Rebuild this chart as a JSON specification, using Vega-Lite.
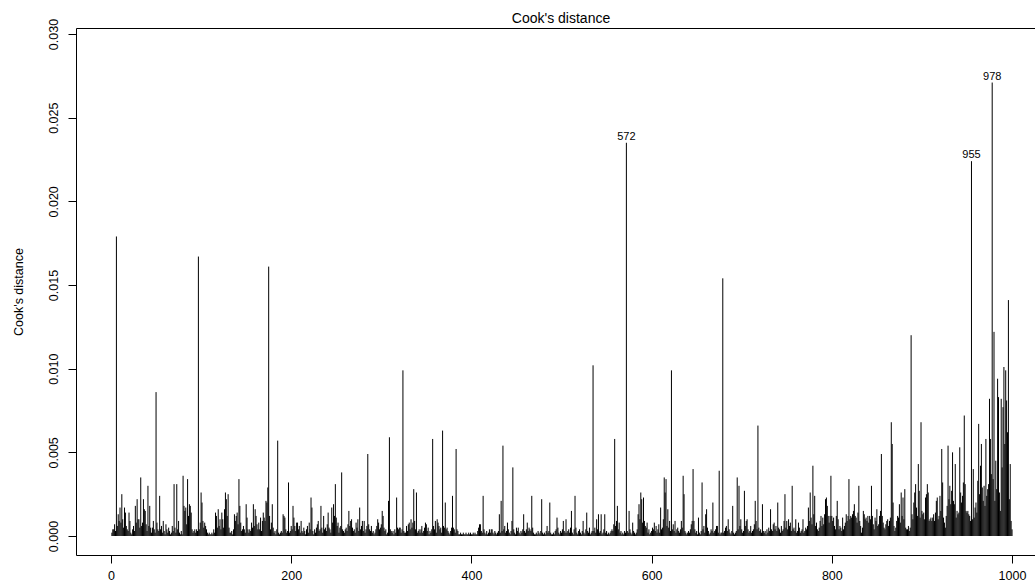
{
"$schema":"https://vega.github.io/schema/vega-lite/v6.json",
"autosize":{"type":"none"},
"padding":{"left":76,"top":28,"right":0,"bottom":30},
"width":959,"height":527,
"background":"white",
"title":{"text":"Cook's distance","fontSize":14,"font":"Liberation Sans","fontWeight":"normal","color":"black","offset":4,"dy":12,"dx":5.5},
"data":{"values":[
{"i":1,"d":0.0002},{"i":2,"d":0.0004},{"i":3,"d":0.0004},{"i":4,"d":0.0007},{"i":5,"d":0.0003},{"i":6,"d":0.0179},{"i":7,"d":0.0006},{"i":8,"d":0.0013},{"i":9,"d":0.0009},{"i":10,"d":0.0017},
{"i":11,"d":0.0008},{"i":12,"d":0.0025},{"i":13,"d":0.001},{"i":14,"d":0.0005},{"i":15,"d":0.0017},{"i":16,"d":0.0014},{"i":17,"d":0.0006},{"i":18,"d":0.0004},{"i":19,"d":0.0003},{"i":20,"d":0.0014},
{"i":21,"d":0.0009},{"i":22,"d":0.0002},{"i":23,"d":0.0001},{"i":24,"d":0.0004},{"i":25,"d":0.0006},{"i":26,"d":0.0003},{"i":27,"d":0.0018},{"i":28,"d":0.0008},{"i":29,"d":0.0022},{"i":30,"d":0.001},
{"i":31,"d":0.001},{"i":32,"d":0.0005},{"i":33,"d":0.0035},{"i":34,"d":0.0006},{"i":35,"d":0.0008},{"i":36,"d":0.0022},{"i":37,"d":0.0016},{"i":38,"d":0.0015},{"i":39,"d":0.0007},{"i":40,"d":0.0003},
{"i":41,"d":0.003},{"i":42,"d":0.0006},{"i":43,"d":0.0018},{"i":44,"d":0.0005},{"i":45,"d":0.0002},{"i":46,"d":0.0005},{"i":47,"d":0.0009},{"i":48,"d":0.0004},{"i":49,"d":0.0002},{"i":50,"d":0.0086},
{"i":51,"d":0.0008},{"i":52,"d":0.0004},{"i":53,"d":0.0003},{"i":54,"d":0.0024},{"i":55,"d":0.0004},{"i":56,"d":0.0006},{"i":57,"d":0.0002},{"i":58,"d":0.0009},{"i":59,"d":0.0003},{"i":60,"d":0.0001},
{"i":61,"d":0.0007},{"i":62,"d":0.0004},{"i":63,"d":0.0002},{"i":64,"d":0.0005},{"i":65,"d":0.0003},{"i":66,"d":0.0001},{"i":67,"d":0.0002},{"i":68,"d":0.0006},{"i":69,"d":0.0003},{"i":70,"d":0.0031},
{"i":71,"d":0.0005},{"i":72,"d":0.0002},{"i":73,"d":0.0031},{"i":74,"d":0.0004},{"i":75,"d":0.0009},{"i":76,"d":0.0002},{"i":77,"d":0.0001},{"i":78,"d":0.0003},{"i":79,"d":0.0001},{"i":80,"d":0.0036},
{"i":81,"d":0.0018},{"i":82,"d":0.0015},{"i":83,"d":0.0017},{"i":84,"d":0.0007},{"i":85,"d":0.0034},{"i":86,"d":0.0012},{"i":87,"d":0.0019},{"i":88,"d":0.0018},{"i":89,"d":0.0014},{"i":90,"d":0.0004},
{"i":91,"d":0.0002},{"i":92,"d":0.0003},{"i":93,"d":0.0004},{"i":94,"d":0.0002},{"i":95,"d":0.0004},{"i":96,"d":0.0003},{"i":97,"d":0.0167},{"i":98,"d":0.0004},{"i":99,"d":0.0008},{"i":100,"d":0.0026},
{"i":101,"d":0.002},{"i":102,"d":0.0009},{"i":103,"d":0.0005},{"i":104,"d":0.0008},{"i":105,"d":0.0006},{"i":106,"d":0.0004},{"i":107,"d":0.0002},{"i":108,"d":0.0001},{"i":109,"d":0.0002},{"i":110,"d":0.0001},
{"i":111,"d":0.0001},{"i":112,"d":0.0002},{"i":113,"d":0.0001},{"i":114,"d":0.0004},{"i":115,"d":0.0002},{"i":116,"d":0.0014},{"i":117,"d":0.0012},{"i":118,"d":0.0005},{"i":119,"d":0.0016},{"i":120,"d":0.0006},
{"i":121,"d":0.001},{"i":122,"d":0.0004},{"i":123,"d":0.0014},{"i":124,"d":0.001},{"i":125,"d":0.0005},{"i":126,"d":0.0016},{"i":127,"d":0.0026},{"i":128,"d":0.0022},{"i":129,"d":0.0012},{"i":130,"d":0.0025},
{"i":131,"d":0.0005},{"i":132,"d":0.0002},{"i":133,"d":0.0002},{"i":134,"d":0.0003},{"i":135,"d":0.0001},{"i":136,"d":0.0004},{"i":137,"d":0.0013},{"i":138,"d":0.0009},{"i":139,"d":0.0012},{"i":140,"d":0.0014},
{"i":141,"d":0.0007},{"i":142,"d":0.0034},{"i":143,"d":0.0018},{"i":144,"d":0.0008},{"i":145,"d":0.0003},{"i":146,"d":0.0004},{"i":147,"d":0.0006},{"i":148,"d":0.0004},{"i":149,"d":0.0002},{"i":150,"d":0.0019},
{"i":151,"d":0.0011},{"i":152,"d":0.0004},{"i":153,"d":0.0002},{"i":154,"d":0.0004},{"i":155,"d":0.0003},{"i":156,"d":0.0008},{"i":157,"d":0.0005},{"i":158,"d":0.0019},{"i":159,"d":0.0006},{"i":160,"d":0.0016},
{"i":161,"d":0.0012},{"i":162,"d":0.0007},{"i":163,"d":0.0004},{"i":164,"d":0.0008},{"i":165,"d":0.0004},{"i":166,"d":0.0011},{"i":167,"d":0.0003},{"i":168,"d":0.0009},{"i":169,"d":0.0014},{"i":170,"d":0.0011},
{"i":171,"d":0.0009},{"i":172,"d":0.0021},{"i":173,"d":0.002},{"i":174,"d":0.0029},{"i":175,"d":0.0161},{"i":176,"d":0.0012},{"i":177,"d":0.0004},{"i":178,"d":0.0008},{"i":179,"d":0.0019},{"i":180,"d":0.0005},
{"i":181,"d":0.0002},{"i":182,"d":0.0003},{"i":183,"d":0.0001},{"i":184,"d":0.0004},{"i":185,"d":0.0057},{"i":186,"d":0.0002},{"i":187,"d":0.0001},{"i":188,"d":0.0002},{"i":189,"d":0.0003},{"i":190,"d":0.0002},
{"i":191,"d":0.0013},{"i":192,"d":0.0012},{"i":193,"d":0.0011},{"i":194,"d":0.0004},{"i":195,"d":0.0002},{"i":196,"d":0.0003},{"i":197,"d":0.0032},{"i":198,"d":0.0002},{"i":199,"d":0.0003},{"i":200,"d":0.0006},
{"i":201,"d":0.0004},{"i":202,"d":0.0018},{"i":203,"d":0.0011},{"i":204,"d":0.0006},{"i":205,"d":0.0003},{"i":206,"d":0.0008},{"i":207,"d":0.0008},{"i":208,"d":0.0004},{"i":209,"d":0.0006},{"i":210,"d":0.0002},
{"i":211,"d":0.0009},{"i":212,"d":0.0003},{"i":213,"d":0.0002},{"i":214,"d":0.0005},{"i":215,"d":0.0003},{"i":216,"d":0.0001},{"i":217,"d":0.0004},{"i":218,"d":0.0006},{"i":219,"d":0.0002},{"i":220,"d":0.0008},
{"i":221,"d":0.0004},{"i":222,"d":0.0023},{"i":223,"d":0.0017},{"i":224,"d":0.0003},{"i":225,"d":0.0001},{"i":226,"d":0.0004},{"i":227,"d":0.0002},{"i":228,"d":0.0005},{"i":229,"d":0.0007},{"i":230,"d":0.0009},
{"i":231,"d":0.0003},{"i":232,"d":0.0004},{"i":233,"d":0.0018},{"i":234,"d":0.0005},{"i":235,"d":0.0002},{"i":236,"d":0.0012},{"i":237,"d":0.0004},{"i":238,"d":0.0005},{"i":239,"d":0.0003},{"i":240,"d":0.0007},
{"i":241,"d":0.0014},{"i":242,"d":0.0005},{"i":243,"d":0.0004},{"i":244,"d":0.0002},{"i":245,"d":0.0017},{"i":246,"d":0.0008},{"i":247,"d":0.0019},{"i":248,"d":0.0012},{"i":249,"d":0.0031},{"i":250,"d":0.0011},
{"i":251,"d":0.0006},{"i":252,"d":0.0008},{"i":253,"d":0.0002},{"i":254,"d":0.0005},{"i":255,"d":0.0006},{"i":256,"d":0.0038},{"i":257,"d":0.0004},{"i":258,"d":0.0003},{"i":259,"d":0.0002},{"i":260,"d":0.0004},
{"i":261,"d":0.0005},{"i":262,"d":0.0003},{"i":263,"d":0.0007},{"i":264,"d":0.0015},{"i":265,"d":0.0006},{"i":266,"d":0.0009},{"i":267,"d":0.001},{"i":268,"d":0.0005},{"i":269,"d":0.0003},{"i":270,"d":0.0004},
{"i":271,"d":0.0002},{"i":272,"d":0.0008},{"i":273,"d":0.0005},{"i":274,"d":0.001},{"i":275,"d":0.0003},{"i":276,"d":0.0017},{"i":277,"d":0.0004},{"i":278,"d":0.0006},{"i":279,"d":0.0009},{"i":280,"d":0.0003},
{"i":281,"d":0.0009},{"i":282,"d":0.0002},{"i":283,"d":0.0004},{"i":284,"d":0.0006},{"i":285,"d":0.0049},{"i":286,"d":0.0007},{"i":287,"d":0.0004},{"i":288,"d":0.0003},{"i":289,"d":0.0006},{"i":290,"d":0.0002},
{"i":291,"d":0.0003},{"i":292,"d":0.0001},{"i":293,"d":0.0002},{"i":294,"d":0.0004},{"i":295,"d":0.0006},{"i":296,"d":0.001},{"i":297,"d":0.0008},{"i":298,"d":0.0004},{"i":299,"d":0.0005},{"i":300,"d":0.0007},
{"i":301,"d":0.0015},{"i":302,"d":0.0012},{"i":303,"d":0.0005},{"i":304,"d":0.0003},{"i":305,"d":0.0004},{"i":306,"d":0.0001},{"i":307,"d":0.0002},{"i":308,"d":0.0021},{"i":309,"d":0.0059},{"i":310,"d":0.0004},
{"i":311,"d":0.0003},{"i":312,"d":0.0002},{"i":313,"d":0.0003},{"i":314,"d":0.0001},{"i":315,"d":0.0004},{"i":316,"d":0.0002},{"i":317,"d":0.0023},{"i":318,"d":0.0005},{"i":319,"d":0.0004},{"i":320,"d":0.0005},
{"i":321,"d":0.0005},{"i":322,"d":0.0002},{"i":323,"d":0.0004},{"i":324,"d":0.0099},{"i":325,"d":0.0003},{"i":326,"d":0.0002},{"i":327,"d":0.0002},{"i":328,"d":0.0006},{"i":329,"d":0.0003},{"i":330,"d":0.0007},
{"i":331,"d":0.0008},{"i":332,"d":0.0004},{"i":333,"d":0.001},{"i":334,"d":0.0005},{"i":335,"d":0.0008},{"i":336,"d":0.0028},{"i":337,"d":0.0009},{"i":338,"d":0.0004},{"i":339,"d":0.0026},{"i":340,"d":0.0002},
{"i":341,"d":0.0003},{"i":342,"d":0.0004},{"i":343,"d":0.0002},{"i":344,"d":0.0004},{"i":345,"d":0.0006},{"i":346,"d":0.0002},{"i":347,"d":0.0003},{"i":348,"d":0.0005},{"i":349,"d":0.0008},{"i":350,"d":0.0007},
{"i":351,"d":0.0003},{"i":352,"d":0.0005},{"i":353,"d":0.0001},{"i":354,"d":0.0003},{"i":355,"d":0.0002},{"i":356,"d":0.0004},{"i":357,"d":0.0058},{"i":358,"d":0.0006},{"i":359,"d":0.0004},{"i":360,"d":0.0009},
{"i":361,"d":0.0002},{"i":362,"d":0.001},{"i":363,"d":0.0008},{"i":364,"d":0.0006},{"i":365,"d":0.0004},{"i":366,"d":0.0005},{"i":367,"d":0.0002},{"i":368,"d":0.0063},{"i":369,"d":0.0006},{"i":370,"d":0.0005},
{"i":371,"d":0.002},{"i":372,"d":0.0004},{"i":373,"d":0.0005},{"i":374,"d":0.0003},{"i":375,"d":0.0002},{"i":376,"d":0.0001},{"i":377,"d":0.0003},{"i":378,"d":0.0005},{"i":379,"d":0.0024},{"i":380,"d":0.0005},
{"i":381,"d":0.0004},{"i":382,"d":0.0002},{"i":383,"d":0.0052},{"i":384,"d":0.0004},{"i":385,"d":0.0003},{"i":386,"d":0.0001},{"i":387,"d":0.0001},{"i":388,"d":0.0002},{"i":389,"d":0.0001},{"i":390,"d":0.0001},
{"i":391,"d":0.0002},{"i":392,"d":0.0001},{"i":393,"d":0.0001},{"i":394,"d":0.0002},{"i":395,"d":0.0001},{"i":396,"d":0.0001},{"i":397,"d":0.0002},{"i":398,"d":0.0001},{"i":399,"d":0.0002},{"i":400,"d":0.0001},
{"i":401,"d":0.0001},{"i":402,"d":0.0002},{"i":403,"d":0.0001},{"i":404,"d":0.0002},{"i":405,"d":0.0001},{"i":406,"d":0.0001},{"i":407,"d":0.0003},{"i":408,"d":0.0005},{"i":409,"d":0.0007},{"i":410,"d":0.0007},
{"i":411,"d":0.0003},{"i":412,"d":0.0002},{"i":413,"d":0.0024},{"i":414,"d":0.0004},{"i":415,"d":0.0002},{"i":416,"d":0.0001},{"i":417,"d":0.0003},{"i":418,"d":0.0001},{"i":419,"d":0.0002},{"i":420,"d":0.0004},
{"i":421,"d":0.0002},{"i":422,"d":0.0004},{"i":423,"d":0.0004},{"i":424,"d":0.0002},{"i":425,"d":0.0001},{"i":426,"d":0.0003},{"i":427,"d":0.0002},{"i":428,"d":0.0001},{"i":429,"d":0.0002},{"i":430,"d":0.0003},
{"i":431,"d":0.0013},{"i":432,"d":0.0002},{"i":433,"d":0.0021},{"i":434,"d":0.0003},{"i":435,"d":0.0054},{"i":436,"d":0.0004},{"i":437,"d":0.0006},{"i":438,"d":0.0002},{"i":439,"d":0.0003},{"i":440,"d":0.0008},
{"i":441,"d":0.0004},{"i":442,"d":0.0002},{"i":443,"d":0.0001},{"i":444,"d":0.0003},{"i":445,"d":0.0009},{"i":446,"d":0.0041},{"i":447,"d":0.0004},{"i":448,"d":0.0002},{"i":449,"d":0.0001},{"i":450,"d":0.0005},
{"i":451,"d":0.0003},{"i":452,"d":0.0005},{"i":453,"d":0.0002},{"i":454,"d":0.0001},{"i":455,"d":0.0003},{"i":456,"d":0.0002},{"i":457,"d":0.0004},{"i":458,"d":0.0013},{"i":459,"d":0.0003},{"i":460,"d":0.0002},
{"i":461,"d":0.0004},{"i":462,"d":0.0008},{"i":463,"d":0.0003},{"i":464,"d":0.0005},{"i":465,"d":0.0004},{"i":466,"d":0.0003},{"i":467,"d":0.0024},{"i":468,"d":0.0005},{"i":469,"d":0.0002},{"i":470,"d":0.0001},
{"i":471,"d":0.0001},{"i":472,"d":0.0002},{"i":473,"d":0.0001},{"i":474,"d":0.0003},{"i":475,"d":0.0002},{"i":476,"d":0.0001},{"i":477,"d":0.0003},{"i":478,"d":0.0022},{"i":479,"d":0.0002},{"i":480,"d":0.0001},
{"i":481,"d":0.0002},{"i":482,"d":0.0001},{"i":483,"d":0.0003},{"i":484,"d":0.0006},{"i":485,"d":0.0002},{"i":486,"d":0.0003},{"i":487,"d":0.002},{"i":488,"d":0.0002},{"i":489,"d":0.0001},{"i":490,"d":0.0001},
{"i":491,"d":0.0002},{"i":492,"d":0.0001},{"i":493,"d":0.0003},{"i":494,"d":0.0004},{"i":495,"d":0.0011},{"i":496,"d":0.0005},{"i":497,"d":0.0002},{"i":498,"d":0.0001},{"i":499,"d":0.0003},{"i":500,"d":0.0002},
{"i":501,"d":0.0004},{"i":502,"d":0.0009},{"i":503,"d":0.0003},{"i":504,"d":0.0002},{"i":505,"d":0.001},{"i":506,"d":0.0002},{"i":507,"d":0.0003},{"i":508,"d":0.0004},{"i":509,"d":0.0002},{"i":510,"d":0.0005},
{"i":511,"d":0.0015},{"i":512,"d":0.0002},{"i":513,"d":0.0001},{"i":514,"d":0.0004},{"i":515,"d":0.0024},{"i":516,"d":0.0005},{"i":517,"d":0.0002},{"i":518,"d":0.0001},{"i":519,"d":0.0003},{"i":520,"d":0.0004},
{"i":521,"d":0.0002},{"i":522,"d":0.0001},{"i":523,"d":0.0003},{"i":524,"d":0.0009},{"i":525,"d":0.0002},{"i":526,"d":0.0001},{"i":527,"d":0.0004},{"i":528,"d":0.0014},{"i":529,"d":0.0003},{"i":530,"d":0.0002},
{"i":531,"d":0.0005},{"i":532,"d":0.0001},{"i":533,"d":0.0002},{"i":534,"d":0.0003},{"i":535,"d":0.0102},{"i":536,"d":0.0003},{"i":537,"d":0.0005},{"i":538,"d":0.0002},{"i":539,"d":0.001},{"i":540,"d":0.0004},
{"i":541,"d":0.0013},{"i":542,"d":0.0002},{"i":543,"d":0.0003},{"i":544,"d":0.0013},{"i":545,"d":0.0001},{"i":546,"d":0.0002},{"i":547,"d":0.0004},{"i":548,"d":0.0013},{"i":549,"d":0.0002},{"i":550,"d":0.0003},
{"i":551,"d":0.0001},{"i":552,"d":0.0002},{"i":553,"d":0.0001},{"i":554,"d":0.0002},{"i":555,"d":0.0003},{"i":556,"d":0.0004},{"i":557,"d":0.0003},{"i":558,"d":0.0007},{"i":559,"d":0.0058},{"i":560,"d":0.0006},
{"i":561,"d":0.0009},{"i":562,"d":0.0018},{"i":563,"d":0.0004},{"i":564,"d":0.0008},{"i":565,"d":0.0002},{"i":566,"d":0.0003},{"i":567,"d":0.0001},{"i":568,"d":0.0002},{"i":569,"d":0.0001},{"i":570,"d":0.0003},
{"i":571,"d":0.0002},{"i":572,"d":0.0235},{"i":573,"d":0.0003},{"i":574,"d":0.0002},{"i":575,"d":0.0015},{"i":576,"d":0.0004},{"i":577,"d":0.0002},{"i":578,"d":0.0001},{"i":579,"d":0.0008},{"i":580,"d":0.0003},
{"i":581,"d":0.0002},{"i":582,"d":0.0001},{"i":583,"d":0.0002},{"i":584,"d":0.0004},{"i":585,"d":0.0013},{"i":586,"d":0.0019},{"i":587,"d":0.001},{"i":588,"d":0.0026},{"i":589,"d":0.0022},{"i":590,"d":0.0008},
{"i":591,"d":0.0023},{"i":592,"d":0.0009},{"i":593,"d":0.0006},{"i":594,"d":0.0005},{"i":595,"d":0.0008},{"i":596,"d":0.0002},{"i":597,"d":0.0004},{"i":598,"d":0.0001},{"i":599,"d":0.0002},{"i":600,"d":0.0003},
{"i":601,"d":0.0005},{"i":602,"d":0.0004},{"i":603,"d":0.0008},{"i":604,"d":0.0003},{"i":605,"d":0.0006},{"i":606,"d":0.0002},{"i":607,"d":0.0004},{"i":608,"d":0.0007},{"i":609,"d":0.0002},{"i":610,"d":0.0017},
{"i":611,"d":0.0004},{"i":612,"d":0.0005},{"i":613,"d":0.001},{"i":614,"d":0.0035},{"i":615,"d":0.0026},{"i":616,"d":0.0034},{"i":617,"d":0.0006},{"i":618,"d":0.0016},{"i":619,"d":0.0005},{"i":620,"d":0.0009},
{"i":621,"d":0.0003},{"i":622,"d":0.0099},{"i":623,"d":0.0004},{"i":624,"d":0.0007},{"i":625,"d":0.0003},{"i":626,"d":0.0009},{"i":627,"d":0.0002},{"i":628,"d":0.0004},{"i":629,"d":0.0005},{"i":630,"d":0.0003},
{"i":631,"d":0.0002},{"i":632,"d":0.0004},{"i":633,"d":0.0009},{"i":634,"d":0.0005},{"i":635,"d":0.0036},{"i":636,"d":0.0025},{"i":637,"d":0.0003},{"i":638,"d":0.0002},{"i":639,"d":0.0001},{"i":640,"d":0.0002},
{"i":641,"d":0.0003},{"i":642,"d":0.0002},{"i":643,"d":0.0004},{"i":644,"d":0.0007},{"i":645,"d":0.0009},{"i":646,"d":0.004},{"i":647,"d":0.0009},{"i":648,"d":0.0004},{"i":649,"d":0.0002},{"i":650,"d":0.0003},
{"i":651,"d":0.0001},{"i":652,"d":0.0011},{"i":653,"d":0.0002},{"i":654,"d":0.0001},{"i":655,"d":0.0003},{"i":656,"d":0.0032},{"i":657,"d":0.0004},{"i":658,"d":0.0006},{"i":659,"d":0.0002},{"i":660,"d":0.0013},
{"i":661,"d":0.0016},{"i":662,"d":0.0005},{"i":663,"d":0.0003},{"i":664,"d":0.0001},{"i":665,"d":0.0002},{"i":666,"d":0.0004},{"i":667,"d":0.0003},{"i":668,"d":0.002},{"i":669,"d":0.0002},{"i":670,"d":0.0003},
{"i":671,"d":0.0004},{"i":672,"d":0.0006},{"i":673,"d":0.0006},{"i":674,"d":0.0002},{"i":675,"d":0.0039},{"i":676,"d":0.0001},{"i":677,"d":0.0002},{"i":678,"d":0.0002},{"i":679,"d":0.0154},{"i":680,"d":0.0002},
{"i":681,"d":0.0003},{"i":682,"d":0.0005},{"i":683,"d":0.0006},{"i":684,"d":0.0003},{"i":685,"d":0.001},{"i":686,"d":0.0004},{"i":687,"d":0.0002},{"i":688,"d":0.0001},{"i":689,"d":0.0003},{"i":690,"d":0.0018},
{"i":691,"d":0.0002},{"i":692,"d":0.0001},{"i":693,"d":0.0002},{"i":694,"d":0.0003},{"i":695,"d":0.0035},{"i":696,"d":0.0004},{"i":697,"d":0.003},{"i":698,"d":0.0006},{"i":699,"d":0.001},{"i":700,"d":0.0004},
{"i":701,"d":0.0002},{"i":702,"d":0.0003},{"i":703,"d":0.0027},{"i":704,"d":0.0006},{"i":705,"d":0.0009},{"i":706,"d":0.001},{"i":707,"d":0.0004},{"i":708,"d":0.0002},{"i":709,"d":0.0003},{"i":710,"d":0.0006},
{"i":711,"d":0.0002},{"i":712,"d":0.0003},{"i":713,"d":0.0004},{"i":714,"d":0.0007},{"i":715,"d":0.0021},{"i":716,"d":0.0009},{"i":717,"d":0.0004},{"i":718,"d":0.0066},{"i":719,"d":0.0005},{"i":720,"d":0.0003},
{"i":721,"d":0.0004},{"i":722,"d":0.0002},{"i":723,"d":0.0019},{"i":724,"d":0.0003},{"i":725,"d":0.0002},{"i":726,"d":0.0003},{"i":727,"d":0.0001},{"i":728,"d":0.0004},{"i":729,"d":0.0002},{"i":730,"d":0.0005},
{"i":731,"d":0.0003},{"i":732,"d":0.0016},{"i":733,"d":0.0004},{"i":734,"d":0.0003},{"i":735,"d":0.0007},{"i":736,"d":0.0008},{"i":737,"d":0.0004},{"i":738,"d":0.0006},{"i":739,"d":0.0003},{"i":740,"d":0.002},
{"i":741,"d":0.0005},{"i":742,"d":0.0004},{"i":743,"d":0.0002},{"i":744,"d":0.0006},{"i":745,"d":0.0003},{"i":746,"d":0.0004},{"i":747,"d":0.0009},{"i":748,"d":0.0025},{"i":749,"d":0.0005},{"i":750,"d":0.0009},
{"i":751,"d":0.0004},{"i":752,"d":0.001},{"i":753,"d":0.0006},{"i":754,"d":0.0008},{"i":755,"d":0.0003},{"i":756,"d":0.003},{"i":757,"d":0.0004},{"i":758,"d":0.0005},{"i":759,"d":0.0003},{"i":760,"d":0.001},
{"i":761,"d":0.0002},{"i":762,"d":0.0003},{"i":763,"d":0.0008},{"i":764,"d":0.0005},{"i":765,"d":0.0002},{"i":766,"d":0.0003},{"i":767,"d":0.0004},{"i":768,"d":0.001},{"i":769,"d":0.0002},{"i":770,"d":0.0003},
{"i":771,"d":0.0005},{"i":772,"d":0.0004},{"i":773,"d":0.0006},{"i":774,"d":0.0017},{"i":775,"d":0.0009},{"i":776,"d":0.0026},{"i":777,"d":0.0011},{"i":778,"d":0.0007},{"i":779,"d":0.0042},{"i":780,"d":0.0013},
{"i":781,"d":0.0024},{"i":782,"d":0.0006},{"i":783,"d":0.0008},{"i":784,"d":0.0004},{"i":785,"d":0.0003},{"i":786,"d":0.0005},{"i":787,"d":0.0009},{"i":788,"d":0.0012},{"i":789,"d":0.0006},{"i":790,"d":0.0011},
{"i":791,"d":0.0007},{"i":792,"d":0.0013},{"i":793,"d":0.0022},{"i":794,"d":0.0023},{"i":795,"d":0.0018},{"i":796,"d":0.0012},{"i":797,"d":0.0008},{"i":798,"d":0.0012},{"i":799,"d":0.0036},{"i":800,"d":0.0012},
{"i":801,"d":0.0009},{"i":802,"d":0.0011},{"i":803,"d":0.0006},{"i":804,"d":0.0004},{"i":805,"d":0.0012},{"i":806,"d":0.0021},{"i":807,"d":0.001},{"i":808,"d":0.0004},{"i":809,"d":0.0006},{"i":810,"d":0.0005},
{"i":811,"d":0.0003},{"i":812,"d":0.0011},{"i":813,"d":0.0004},{"i":814,"d":0.0006},{"i":815,"d":0.0008},{"i":816,"d":0.0013},{"i":817,"d":0.0009},{"i":818,"d":0.0012},{"i":819,"d":0.0034},{"i":820,"d":0.001},
{"i":821,"d":0.0012},{"i":822,"d":0.0011},{"i":823,"d":0.0013},{"i":824,"d":0.0015},{"i":825,"d":0.0019},{"i":826,"d":0.0012},{"i":827,"d":0.0011},{"i":828,"d":0.0008},{"i":829,"d":0.0014},{"i":830,"d":0.003},
{"i":831,"d":0.0009},{"i":832,"d":0.0006},{"i":833,"d":0.0002},{"i":834,"d":0.0005},{"i":835,"d":0.0015},{"i":836,"d":0.0013},{"i":837,"d":0.001},{"i":838,"d":0.0011},{"i":839,"d":0.0009},{"i":840,"d":0.0012},
{"i":841,"d":0.0008},{"i":842,"d":0.0012},{"i":843,"d":0.001},{"i":844,"d":0.003},{"i":845,"d":0.0012},{"i":846,"d":0.0007},{"i":847,"d":0.0004},{"i":848,"d":0.0011},{"i":849,"d":0.0009},{"i":850,"d":0.0016},
{"i":851,"d":0.0006},{"i":852,"d":0.0007},{"i":853,"d":0.0012},{"i":854,"d":0.0015},{"i":855,"d":0.0049},{"i":856,"d":0.0012},{"i":857,"d":0.0008},{"i":858,"d":0.0005},{"i":859,"d":0.0004},{"i":860,"d":0.0007},
{"i":861,"d":0.0009},{"i":862,"d":0.001},{"i":863,"d":0.0006},{"i":864,"d":0.0009},{"i":865,"d":0.0011},{"i":866,"d":0.0068},{"i":867,"d":0.0055},{"i":868,"d":0.002},{"i":869,"d":0.0006},{"i":870,"d":0.0003},
{"i":871,"d":0.0005},{"i":872,"d":0.0009},{"i":873,"d":0.0012},{"i":874,"d":0.0011},{"i":875,"d":0.0019},{"i":876,"d":0.0008},{"i":877,"d":0.0026},{"i":878,"d":0.0012},{"i":879,"d":0.0023},{"i":880,"d":0.001},
{"i":881,"d":0.0028},{"i":882,"d":0.0005},{"i":883,"d":0.0004},{"i":884,"d":0.0004},{"i":885,"d":0.0006},{"i":886,"d":0.0003},{"i":887,"d":0.0005},{"i":888,"d":0.012},{"i":889,"d":0.0013},{"i":890,"d":0.001},
{"i":891,"d":0.002},{"i":892,"d":0.0026},{"i":893,"d":0.0031},{"i":894,"d":0.0017},{"i":895,"d":0.0012},{"i":896,"d":0.0043},{"i":897,"d":0.0027},{"i":898,"d":0.0011},{"i":899,"d":0.0068},{"i":900,"d":0.0015},
{"i":901,"d":0.0013},{"i":902,"d":0.0014},{"i":903,"d":0.001},{"i":904,"d":0.0023},{"i":905,"d":0.0025},{"i":906,"d":0.0031},{"i":907,"d":0.0026},{"i":908,"d":0.0009},{"i":909,"d":0.001},{"i":910,"d":0.0011},
{"i":911,"d":0.0009},{"i":912,"d":0.0011},{"i":913,"d":0.0013},{"i":914,"d":0.0009},{"i":915,"d":0.0014},{"i":916,"d":0.0021},{"i":917,"d":0.0023},{"i":918,"d":0.001},{"i":919,"d":0.0012},{"i":920,"d":0.0024},
{"i":921,"d":0.0015},{"i":922,"d":0.0052},{"i":923,"d":0.0032},{"i":924,"d":0.0011},{"i":925,"d":0.0008},{"i":926,"d":0.0005},{"i":927,"d":0.0012},{"i":928,"d":0.0018},{"i":929,"d":0.0054},{"i":930,"d":0.0022},
{"i":931,"d":0.003},{"i":932,"d":0.0019},{"i":933,"d":0.0027},{"i":934,"d":0.005},{"i":935,"d":0.0021},{"i":936,"d":0.0019},{"i":937,"d":0.0043},{"i":938,"d":0.0011},{"i":939,"d":0.0015},{"i":940,"d":0.0013},
{"i":941,"d":0.0014},{"i":942,"d":0.0053},{"i":943,"d":0.0026},{"i":944,"d":0.002},{"i":945,"d":0.0024},{"i":946,"d":0.0032},{"i":947,"d":0.0072},{"i":948,"d":0.0031},{"i":949,"d":0.0015},{"i":950,"d":0.0014},
{"i":951,"d":0.0015},{"i":952,"d":0.0013},{"i":953,"d":0.0012},{"i":954,"d":0.0009},{"i":955,"d":0.0224},{"i":956,"d":0.001},{"i":957,"d":0.004},{"i":958,"d":0.0011},{"i":959,"d":0.0017},{"i":960,"d":0.002},
{"i":961,"d":0.0014},{"i":962,"d":0.0033},{"i":963,"d":0.0067},{"i":964,"d":0.0025},{"i":965,"d":0.0042},{"i":966,"d":0.0055},{"i":967,"d":0.0029},{"i":968,"d":0.0021},{"i":969,"d":0.003},{"i":970,"d":0.0018},
{"i":971,"d":0.0058},{"i":972,"d":0.0024},{"i":973,"d":0.0028},{"i":974,"d":0.0031},{"i":975,"d":0.0082},{"i":976,"d":0.0058},{"i":977,"d":0.0037},{"i":978,"d":0.0271},{"i":979,"d":0.0034},{"i":980,"d":0.0122},
{"i":981,"d":0.0021},{"i":982,"d":0.0045},{"i":983,"d":0.0028},{"i":984,"d":0.0094},{"i":985,"d":0.0083},{"i":986,"d":0.0026},{"i":987,"d":0.0015},{"i":988,"d":0.0082},{"i":989,"d":0.0041},{"i":990,"d":0.0077},
{"i":991,"d":0.0101},{"i":992,"d":0.0055},{"i":993,"d":0.0099},{"i":994,"d":0.0081},{"i":995,"d":0.0062},{"i":996,"d":0.0141},{"i":997,"d":0.0022},{"i":998,"d":0.0043},{"i":999,"d":0.0009},{"i":1000,"d":0.0004}
]},
"layer":[
{"mark":{"type":"rule","color":"black","strokeWidth":1},
 "encoding":{
  "x":{"field":"i","type":"quantitative","scale":{"domain":[-38.85,1025.5],"nice":false,"zero":false},
       "axis":{"orient":"bottom","values":[0,200,400,600,800,1000],"format":"d","grid":false,"title":null,"domainColor":"black","tickColor":"black","tickSize":8,"labelFontSize":12.5,"labelColor":"black","labelFont":"Liberation Sans","labelPadding":6,"labelFlush":false}},
  "y":{"field":"d","type":"quantitative","scale":{"domain":[-0.001135,0.030359],"nice":false,"zero":false},
       "axis":{"values":[0,0.005,0.01,0.015,0.02,0.025,0.03],"format":".3f","grid":false,"domainColor":"black","tickColor":"black","tickSize":8,"labelFontSize":12.5,"labelColor":"black","labelFont":"Liberation Sans","labelAngle":270,"labelAlign":"center","labelBaseline":"alphabetic","labelPadding":11,"labelFlush":false,
               "title":"Cook's distance","titleFont":"Liberation Sans","titleFontSize":12.5,"titleFontWeight":"normal","titleColor":"black","titleX":-58,"titleBaseline":"middle"}},
  "y2":{"datum":0}}},
{"transform":[{"filter":{"field":"i","oneOf":[572,955,978]}}],
 "mark":{"type":"text","baseline":"alphabetic","dy":-3,"fontSize":11,"font":"Liberation Sans","color":"black"},
 "encoding":{
  "x":{"field":"i","type":"quantitative","axis":{"orient":"top","labels":false,"ticks":false,"domain":true,"domainColor":"black","grid":false,"title":null}},
  "y":{"field":"d","type":"quantitative"},
  "text":{"field":"i","type":"quantitative"}}}
],
"resolve":{"axis":{"x":"independent"}},
"config":{"view":{"stroke":null},"font":"Liberation Sans"}
}
